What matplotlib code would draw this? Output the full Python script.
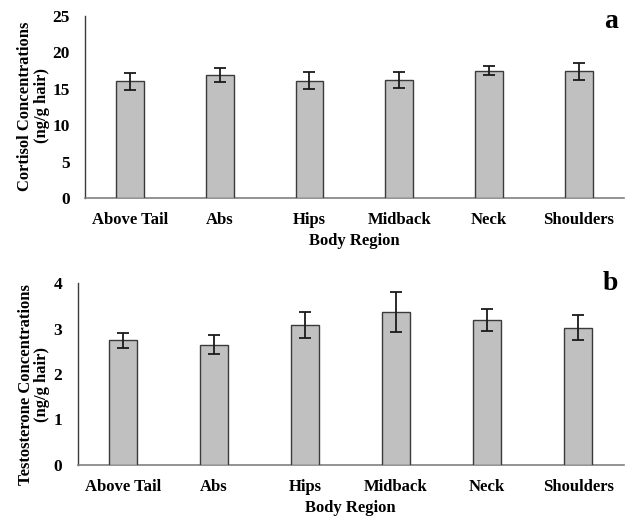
import matplotlib
matplotlib.use("Agg")
import matplotlib.pyplot as plt
import numpy as np


# -------------------------------------------------
# DATA
# -------------------------------------------------

regions = ["Above Tail", "Abs", "Hips", "Midback", "Neck", "Shoulders"]

cortisol_mean = [16.0, 16.9, 16.1, 16.2, 17.45, 17.35]
cortisol_err = [1.15, 0.94, 1.15, 1.1, 0.6, 1.2]

testosterone_mean = [2.74, 2.64, 3.08, 3.37, 3.19, 3.02]
testosterone_err = [0.165, 0.21, 0.28, 0.44, 0.24, 0.275]


# -------------------------------------------------
# STYLE
# -------------------------------------------------

plt.rcParams["font.family"] = ["Liberation Serif", "DejaVu Serif"]
plt.rcParams["font.weight"] = "bold"

bar_color = "#c0c0c0"
edge_color = "#3a3a3a"
axis_color = "#808080"


def draw_panel(ax, means, errs, ymax, yticks, ylabel, letter, label_x, label_y, letter_y):
    x = np.arange(len(regions))

    ax.bar(
        x,
        means,
        width=0.31,
        color=bar_color,
        edgecolor=edge_color,
        linewidth=1.0,
        yerr=errs,
        error_kw=dict(ecolor="#1a1a1a", elinewidth=1.3, capsize=4, capthick=1.3),
        zorder=3
    )

    ax.set_xlim(-0.5, len(regions) - 0.5)
    ax.set_ylim(0, ymax)
    ax.set_yticks(yticks)
    ax.set_xticks(x)
    ax.set_xticklabels(regions, fontsize=12, fontweight="bold")
    ax.tick_params(axis="y", labelsize=12.5, length=0, pad=11)
    ax.tick_params(axis="x", length=0, pad=10)

    for side in ["top", "right"]:
        ax.spines[side].set_visible(False)
    ax.spines["left"].set_color(edge_color)
    ax.spines["left"].set_linewidth(1.0)
    ax.spines["bottom"].set_color(axis_color)
    ax.spines["bottom"].set_linewidth(1.2)

    ax.set_xlabel("Body Region", fontsize=12, fontweight="bold", labelpad=4)
    ax.set_ylabel(ylabel, fontsize=12, fontweight="bold", linespacing=1.05)
    ax.yaxis.set_label_coords(label_x, label_y)

    ax.text(
        0.99, letter_y, letter,
        transform=ax.transAxes,
        fontsize=20,
        fontweight="bold",
        ha="right",
        va="center"
    )


# -------------------------------------------------
# FIGURE
# -------------------------------------------------

fig = plt.figure(figsize=(6.25, 5.16), dpi=100)

ax1 = fig.add_axes([0.136, 0.6163, 0.862, 0.3533])
ax2 = fig.add_axes([0.124, 0.0994, 0.8736, 0.3516])

draw_panel(
    ax1,
    cortisol_mean,
    cortisol_err,
    25,
    [0, 5, 10, 15, 20, 25],
    "Cortisol Concentrations\n(ng/g hair)",
    "a",
    -0.065,
    0.505,
    0.97
)

draw_panel(
    ax2,
    testosterone_mean,
    testosterone_err,
    4,
    [0, 1, 2, 3, 4],
    "Testosterone Concentrations\n(ng/g hair)",
    "b",
    -0.05,
    0.44,
    1.0
)

fig.savefig("out.png", dpi=100)
